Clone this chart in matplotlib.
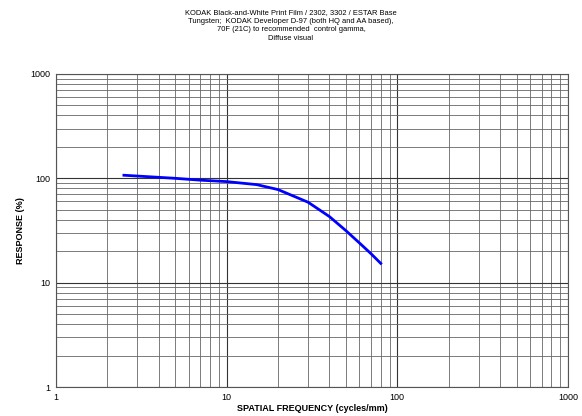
import numpy as np
import matplotlib.pyplot as plt
from matplotlib.ticker import FixedLocator, NullFormatter

# MTF curve
freq = [2.5, 5, 7, 10, 15, 20, 30, 40, 50, 60, 70, 80]
response = [107, 100, 96, 93, 87, 78, 59, 43, 31.5, 24, 19, 15.3]

x_ticks = [1, 10, 100, 1000]
y_ticks = [1, 10, 100, 1000]

title = ("KODAK Black-and-White Print Film / 2302, 3302 / ESTAR Base\n"
         "Tungsten;  KODAK Developer D-97 (both HQ and AA based),\n"
         "70F (21C) to recommended  control gamma,\n"
         "Diffuse visual")

plt.rcParams['font.family'] = ['Liberation Sans', 'DejaVu Sans']

fig = plt.figure(figsize=(5.82, 4.16), dpi=100)
ax = fig.add_axes([0.0962, 0.0697, 0.8797, 0.7525])

ax.plot(freq, response, color='#0000ff', linewidth=2)

ax.set_xscale('log')
ax.set_yscale('log')
ax.set_xlim(1, 1000)
ax.set_ylim(1, 1000)

ax.xaxis.set_major_locator(FixedLocator(x_ticks))
ax.yaxis.set_major_locator(FixedLocator(y_ticks))
ax.set_xticklabels([str(v) for v in x_ticks])
ax.set_yticklabels([str(v) for v in y_ticks])
minor = [m * 10 ** d for d in range(3) for m in range(2, 10)]
ax.xaxis.set_minor_locator(FixedLocator(minor))
ax.yaxis.set_minor_locator(FixedLocator(minor))
ax.xaxis.set_minor_formatter(NullFormatter())
ax.yaxis.set_minor_formatter(NullFormatter())

ax.grid(True, which='major', color='#333333', linewidth=0.8)
ax.grid(True, which='minor', color='#666666', linewidth=0.6)
ax.tick_params(which='both', labelsize=6.5, length=0, pad=4)
for s in ax.spines.values():
    s.set_color('#555555')
    s.set_linewidth(0.8)

ax.set_xlabel('SPATIAL FREQUENCY (cycles/mm)', fontsize=6.5, fontweight='bold', labelpad=2)
ax.set_ylabel('RESPONSE (%)', fontsize=6.5, fontweight='bold', labelpad=4)

fig.text(0.5, 0.978, title, ha='center', va='top', fontsize=5.4, linespacing=1.3)

fig.savefig('out.png', dpi=100)
